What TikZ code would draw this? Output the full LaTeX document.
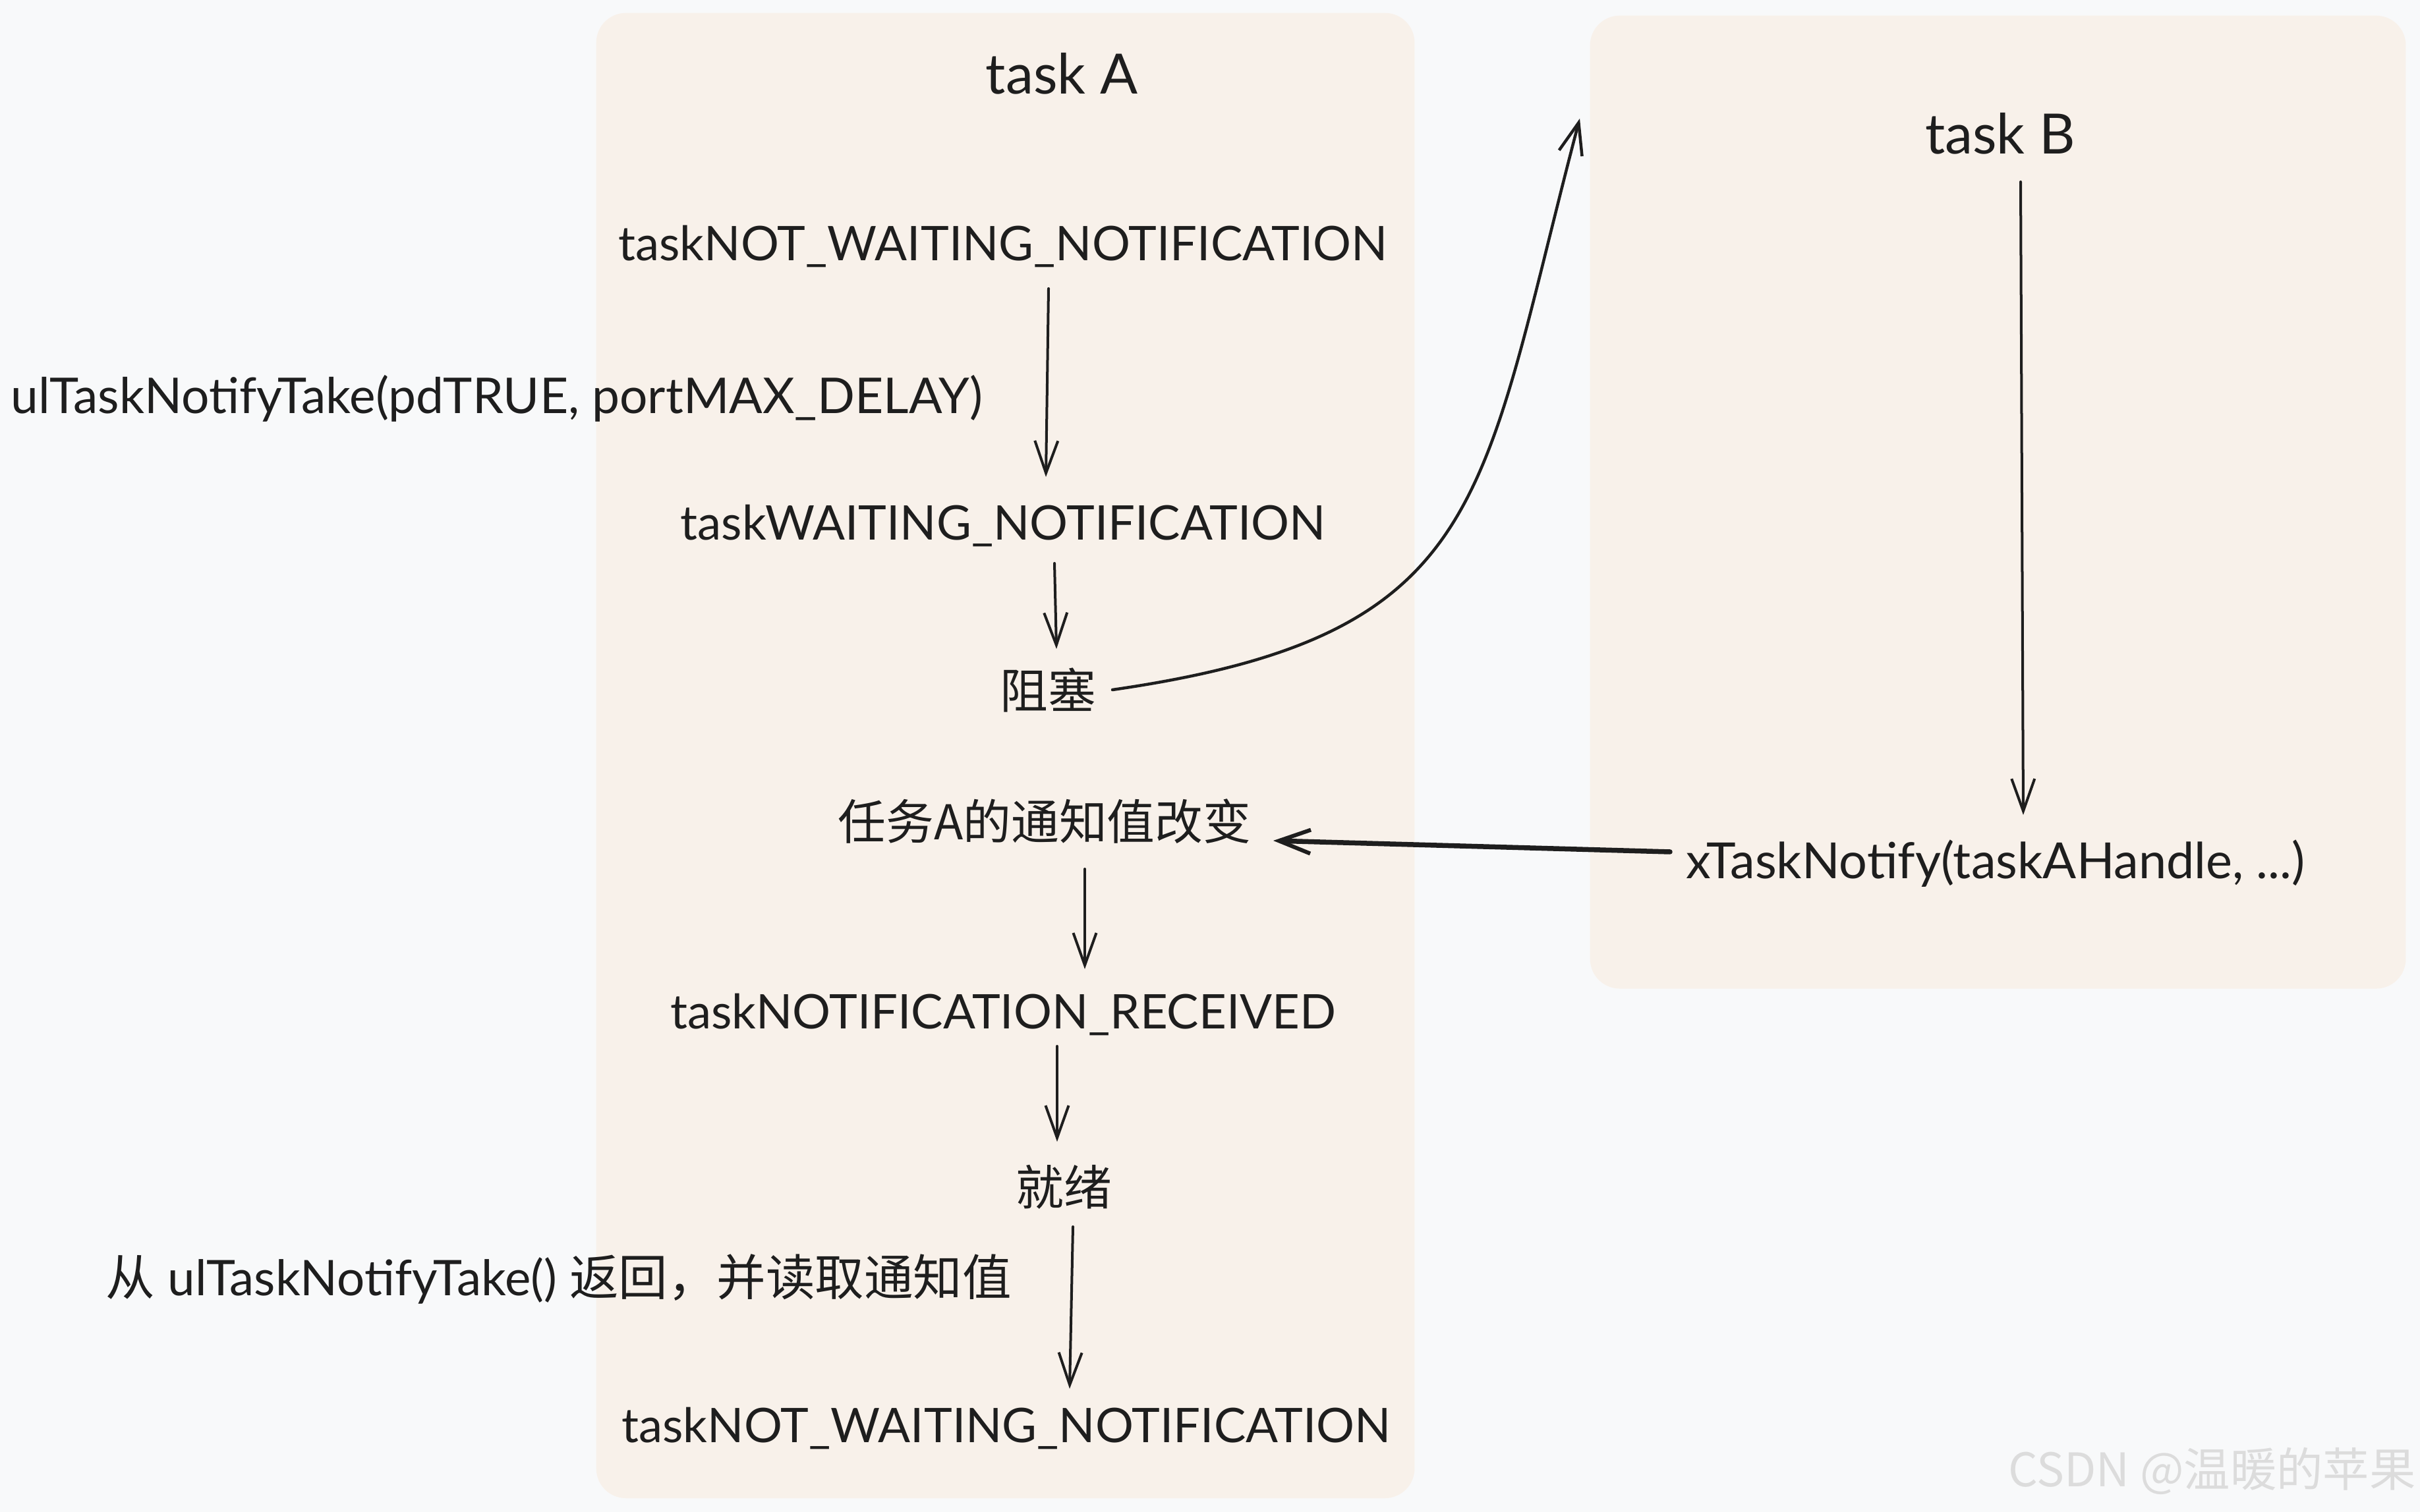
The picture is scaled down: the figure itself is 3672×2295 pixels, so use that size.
\documentclass[tikz,border=0pt]{standalone}
\usepackage{fontspec}
\setmainfont{Lato}
\newfontfamily\cjk{Noto Sans CJK SC}
\usetikzlibrary{arrows.meta}
\definecolor{bgc}{HTML}{F8F9FA}
\definecolor{panelfill}{HTML}{F8F1EA}
\definecolor{ink}{HTML}{1E1E1E}
\definecolor{wmc}{HTML}{DCDCDC}
\tikzset{
  lbl/.style={font=\fontsize{20.6}{24}\selectfont, text=ink, inner sep=0pt},
  lblw/.style={font=\fontsize{21.3}{25}\selectfont, text=ink, inner sep=0pt},
  cjklbl/.style={font=\cjk\fontsize{20.7}{24}\selectfont, text=ink, inner sep=0pt},
  ttl/.style={font=\fontsize{24}{28}\selectfont, text=ink, inner sep=0pt},
  panel/.style={fill=panelfill, draw=none, rounded corners=0.45cm, inner sep=0pt, anchor=north west},
  arr/.style={draw=ink, line width=0.4mm, line cap=round,
    -{Straight Barb[length=4.9mm, width=3.5mm, line width=0.4mm]}},
  thickarr/.style={draw=ink, line width=0.75mm, line cap=round,
    -{Straight Barb[length=4.8mm, width=3.6mm, line width=0.6mm]}},
  curvearr/.style={draw=ink, line width=0.45mm, line cap=round,
    -{Straight Barb[length=4.8mm, width=3.6mm, line width=0.45mm]}},
  wmark/.style={font=\cjk\fontsize{20}{24}\selectfont, text=wmc, inner sep=0pt}
}
\begin{document}
\begin{tikzpicture}[x=0.01cm, y=-0.01cm]
\fill[bgc] (0,0) rectangle (3672,2295);
\useasboundingbox (0,0) rectangle (3672,2295);

% panels
\node[panel, minimum width=12.41cm, minimum height=22.53cm] (boxA) at (904,19) {};
\node[panel, minimum width=12.37cm, minimum height=14.76cm] (boxB) at (2412,23) {};

% titles
\node[ttl] (tA) at (1611,112) {task A};
\node[ttl] (tB) at (3035,203) {task B};

% task A states
\node[lbl] (s1) at (1522,374) {taskNOT\_WAITING\_NOTIFICATION};
\node[lblw] (call) at (754,605) {ulTaskNotifyTake(pdTRUE, portMAX\_DELAY)};
\node[lbl] (s2) at (1522,798) {taskWAITING\_NOTIFICATION};
\node[cjklbl] (blk) at (1590,1048) {阻塞};
\node[cjklbl] (chg) at (1585,1247) {任务A的通知值改变};
\node[lblw, font=\fontsize{21.5}{25}\selectfont] (xt) at (3028,1311) {xTaskNotify(taskAHandle, ...)};
\node[lbl] (s3) at (1522,1540) {taskNOTIFICATION\_RECEIVED};
\node[cjklbl] (rdy) at (1614,1802) {就绪};
\node[lblw, font=\fontsize{21.2}{25}\selectfont] (ret) at (848,1941) {{\cjk 从} ulTaskNotifyTake() {\cjk 返回，并读取通知值}};
\node[lbl] (s4) at (1527,2168) {taskNOT\_WAITING\_NOTIFICATION};

% watermark
\node[wmark, anchor=east] (wm) at (3666,2233) {CSDN @温暖的苹果};

% connectors
\draw[arr] ([shift={(69,64)}]s1.center) -- ([shift={(65,-74)}]s2.center);
\draw[arr] ([shift={(78,57)}]s2.center) -- ([shift={(13,-63)}]blk.center);
\draw[curvearr] ([shift={(98,-1)}]blk.center) .. controls (2262,964) and (2244,760) .. ([shift={(-15,157)}]boxB.north west);
\draw[arr] ([shift={(31,73)}]tB.center) -- ([shift={(42,-74)}]xt.center);
\draw[thickarr] ([shift={(-494,-18)}]xt.center) -- ([shift={(347,29)}]chg.center);
\draw[arr] ([shift={(61,72)}]chg.center) -- ([shift={(124,-69)}]s3.center);
\draw[arr] ([shift={(82,48)}]s3.center) -- ([shift={(-10,-69)}]rdy.center);
\draw[arr] ([shift={(14,60)}]rdy.center) -- ([shift={(96,-60)}]s4.center);
\end{tikzpicture}
\end{document}
